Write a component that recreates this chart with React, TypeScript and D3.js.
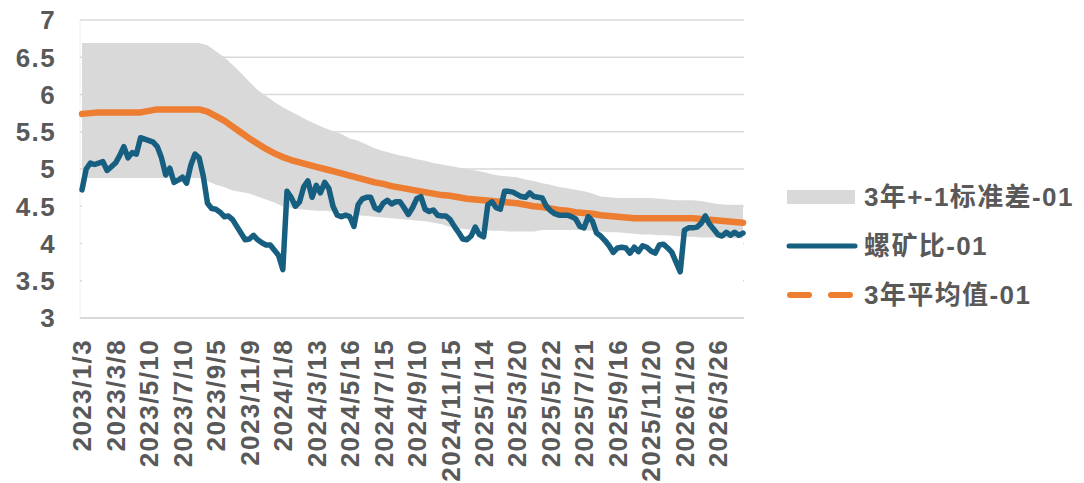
import React from 'react'
import * as d3 from 'd3'

// x axis labels, one every 8 samples of the ratio series
const dateLabels = [
  '2023/1/3', '2023/3/8', '2023/5/10', '2023/7/10', '2023/9/5', '2023/11/9',
  '2024/1/8', '2024/3/13', '2024/5/16', '2024/7/15', '2024/9/10', '2024/11/15',
  '2025/1/14', '2025/3/20', '2025/5/22', '2025/7/21', '2025/9/16', '2025/11/20',
  '2026/1/20', '2026/3/26'
]
const labelStep = 8

const yTicks = [3, 3.5, 4, 4.5, 5, 5.5, 6, 6.5, 7]

// 螺矿比-01 (weekly samples)
const ratio = [
  4.72, 5.0, 5.08, 5.06, 5.08, 5.1, 4.98, 5.03, 5.08, 5.18,
  5.3, 5.15, 5.22, 5.2, 5.42, 5.4, 5.38, 5.36, 5.3, 5.15,
  4.92, 5.01, 4.82, 4.85, 4.89, 4.81, 5.05, 5.2, 5.15, 4.9,
  4.54, 4.47, 4.46, 4.42, 4.36, 4.37, 4.32, 4.23, 4.14, 4.05,
  4.06, 4.11, 4.05, 4.01, 3.98, 3.98, 3.91, 3.84, 3.65, 4.7,
  4.62, 4.5, 4.56, 4.76, 4.84, 4.62, 4.78, 4.68, 4.82, 4.74,
  4.5, 4.38, 4.36, 4.38, 4.36, 4.23, 4.52, 4.6, 4.62, 4.62,
  4.48, 4.45, 4.54, 4.58, 4.53, 4.56, 4.56, 4.48, 4.39, 4.48,
  4.6, 4.63, 4.46, 4.43, 4.45, 4.38, 4.37, 4.37, 4.32, 4.23,
  4.15, 4.06, 4.05, 4.1, 4.22, 4.12, 4.09, 4.52, 4.56, 4.48,
  4.46, 4.7, 4.7, 4.69, 4.66, 4.63, 4.62, 4.68, 4.63, 4.62,
  4.61, 4.5, 4.44, 4.4, 4.38, 4.38, 4.38, 4.36, 4.33, 4.23,
  4.21, 4.36, 4.3, 4.14, 4.1, 4.04, 3.97, 3.88, 3.94, 3.95,
  3.94, 3.87, 3.95, 3.89, 3.97, 3.95, 3.9, 3.87, 3.98, 3.99,
  3.94, 3.88, 3.75, 3.62, 4.18, 4.21, 4.21, 4.22, 4.27, 4.37,
  4.26, 4.19, 4.12, 4.1, 4.15, 4.11, 4.15, 4.11, 4.14
]

// 3年平均值-01 (every other sample)
const avg3y = [
  5.74, 5.75, 5.76, 5.76, 5.76, 5.76, 5.76, 5.76, 5.78, 5.8,
  5.8, 5.8, 5.8, 5.8, 5.8, 5.77, 5.71, 5.65, 5.57, 5.49,
  5.41, 5.34, 5.27, 5.21, 5.16, 5.12, 5.09, 5.06, 5.03, 5.0,
  4.97, 4.94, 4.91, 4.88, 4.85, 4.82, 4.8, 4.77, 4.75, 4.73,
  4.71, 4.69, 4.67, 4.65, 4.64, 4.62, 4.6, 4.59, 4.58, 4.57,
  4.56, 4.55, 4.54, 4.52, 4.5, 4.49, 4.47, 4.45, 4.44, 4.42,
  4.41, 4.4, 4.38, 4.37, 4.36, 4.35, 4.34, 4.34, 4.34, 4.34,
  4.34, 4.34, 4.34, 4.34, 4.33, 4.32, 4.31, 4.3, 4.29, 4.28
]

// 3年+-1标准差-01 upper / lower edges (every other sample)
const bandUpper = [
  6.69, 6.69, 6.69, 6.69, 6.69, 6.69, 6.69, 6.69, 6.69, 6.69,
  6.69, 6.69, 6.69, 6.69, 6.69, 6.66, 6.58, 6.5, 6.4, 6.29,
  6.17, 6.06, 5.98, 5.9, 5.83, 5.77, 5.71, 5.65, 5.6, 5.55,
  5.51, 5.47, 5.41, 5.38, 5.33, 5.28, 5.24, 5.21, 5.18, 5.16,
  5.13, 5.11, 5.08, 5.06, 5.04, 5.02, 5.0, 4.98, 4.96, 4.93,
  4.91, 4.9, 4.89, 4.86, 4.84, 4.81, 4.79, 4.76, 4.74, 4.72,
  4.7, 4.67, 4.63, 4.62, 4.61, 4.61, 4.61, 4.61, 4.61, 4.6,
  4.59, 4.58, 4.58, 4.58, 4.57, 4.55, 4.53, 4.52, 4.52, 4.52
]
const bandLower = [
  4.88, 4.88, 4.88, 4.88, 4.88, 4.88, 4.88, 4.88, 4.88, 4.88,
  4.88, 4.88, 4.88, 4.88, 4.88, 4.84, 4.79, 4.76, 4.71, 4.69,
  4.67, 4.63, 4.59, 4.55, 4.5, 4.48, 4.46, 4.45, 4.44, 4.44,
  4.43, 4.42, 4.4, 4.38, 4.37, 4.36, 4.35, 4.34, 4.33, 4.32,
  4.31, 4.3, 4.28, 4.26, 4.22, 4.2, 4.19, 4.18, 4.18, 4.17,
  4.17, 4.16, 4.16, 4.16, 4.16, 4.18, 4.18, 4.18, 4.18, 4.18,
  4.18, 4.17, 4.16, 4.15, 4.15, 4.14, 4.13, 4.12, 4.12, 4.11,
  4.11, 4.1, 4.09, 4.09, 4.08, 4.08, 4.08, 4.07, 4.07, 4.07
]

const legendItems = ['3年+-1标准差-01', '螺矿比-01', '3年平均值-01']

const FONT = "'Liberation Sans', Arial, 'Noto Sans CJK SC', sans-serif"
const TEXT = '#595959'
const GRID = '#d9d9d9'
const BAND = '#d9d9d9'
const BLUE = '#175f80'
const ORANGE = '#ed7d31'

const App = () => {
  const width = 1084
  const height = 483
  const plot = { left: 80, right: 744, top: 20, bottom: 318 }

  // D3 mathy bits
  const x = d3
    .scaleLinear()
    .domain([0, ratio.length - 1])
    .range([plot.left + 2, plot.right - 1])
  const y = d3.scaleLinear().domain([3, 7]).range([plot.bottom, plot.top])
  const halfStep = (ratio.length - 1) / (avg3y.length - 1)

  const bandIdx = d3.range(bandUpper.length)
  const whiteArea = d3
    .area<number>()
    .x((i) => x(i * halfStep))
    .y0(y(3))
    .y1((i) => y(bandLower[i]))
  const grayArea = d3
    .area<number>()
    .x((i) => x(i * halfStep))
    .y0((i) => y(bandLower[i]))
    .y1((i) => y(bandUpper[i]))

  const avgLine = d3
    .line<number>()
    .x((d, i) => x(i * halfStep))
    .y((d) => y(d))
  const ratioLine = d3
    .line<number>()
    .x((d, i) => x(i))
    .y((d) => y(d))

  const textStyle = {
    fontFamily: FONT,
    fontWeight: 700,
    fontSize: 26,
    letterSpacing: '1.4px',
    fill: TEXT
  }

  const legendX = 787
  const legendY = [197, 246, 295]

  return (
    <div style={{ position: 'absolute', left: 0, top: 0 }}>
      <svg width={width} height={height} style={{ display: 'block', background: '#fff' }}>
        <line x1={plot.left} x2={plot.left} y1={plot.top} y2={plot.bottom} stroke="#f0f0f0" strokeWidth={1} />
        {yTicks.map((t) => (
          <line
            key={'g' + t}
            x1={plot.left}
            x2={plot.right}
            y1={y(t)}
            y2={y(t)}
            stroke={GRID}
            strokeWidth={t === 3 ? 2 : 1.5}
          />
        ))}
        <path d={whiteArea(bandIdx) || ''} fill="#fff" />
        <path d={grayArea(bandIdx) || ''} fill={BAND} />
        <line x1={plot.left} x2={plot.right} y1={y(3)} y2={y(3)} stroke={GRID} strokeWidth={2} />

        <path
          d={avgLine(avg3y) || ''}
          fill="none"
          stroke={ORANGE}
          strokeWidth={6.5}
          strokeLinecap="round"
          strokeLinejoin="round"
        />
        <path
          d={ratioLine(ratio) || ''}
          fill="none"
          stroke={BLUE}
          strokeWidth={5.5}
          strokeLinecap="round"
          strokeLinejoin="round"
        />

        {yTicks.map((t) => (
          <text key={'y' + t} x={56} y={y(t)} dy="0.36em" textAnchor="end" style={textStyle}>
            {t}
          </text>
        ))}

        {dateLabels.map((label, k) => (
          <text
            key={label}
            transform={`translate(${x(k * labelStep)},${339}) rotate(-90)`}
            dy="0.36em"
            textAnchor="end"
            style={textStyle}
          >
            {label}
          </text>
        ))}

        <g className="legend">
          <rect x={legendX} y={legendY[0] - 7} width={68} height={14} fill={BAND} />
          <line
            x1={legendX + 2}
            x2={legendX + 68}
            y1={legendY[1]}
            y2={legendY[1]}
            stroke={BLUE}
            strokeWidth={5}
            strokeLinecap="round"
          />
          <line
            x1={legendX + 3}
            x2={legendX + 68}
            y1={legendY[2]}
            y2={legendY[2]}
            stroke={ORANGE}
            strokeWidth={6}
            strokeDasharray="19 22"
            strokeLinecap="round"
          />
          {legendItems.map((label, i) => (
            <text key={label} x={864} y={legendY[i]} dy="0.36em" style={textStyle}>
              {label}
            </text>
          ))}
        </g>
      </svg>
    </div>
  )
}

export default App
